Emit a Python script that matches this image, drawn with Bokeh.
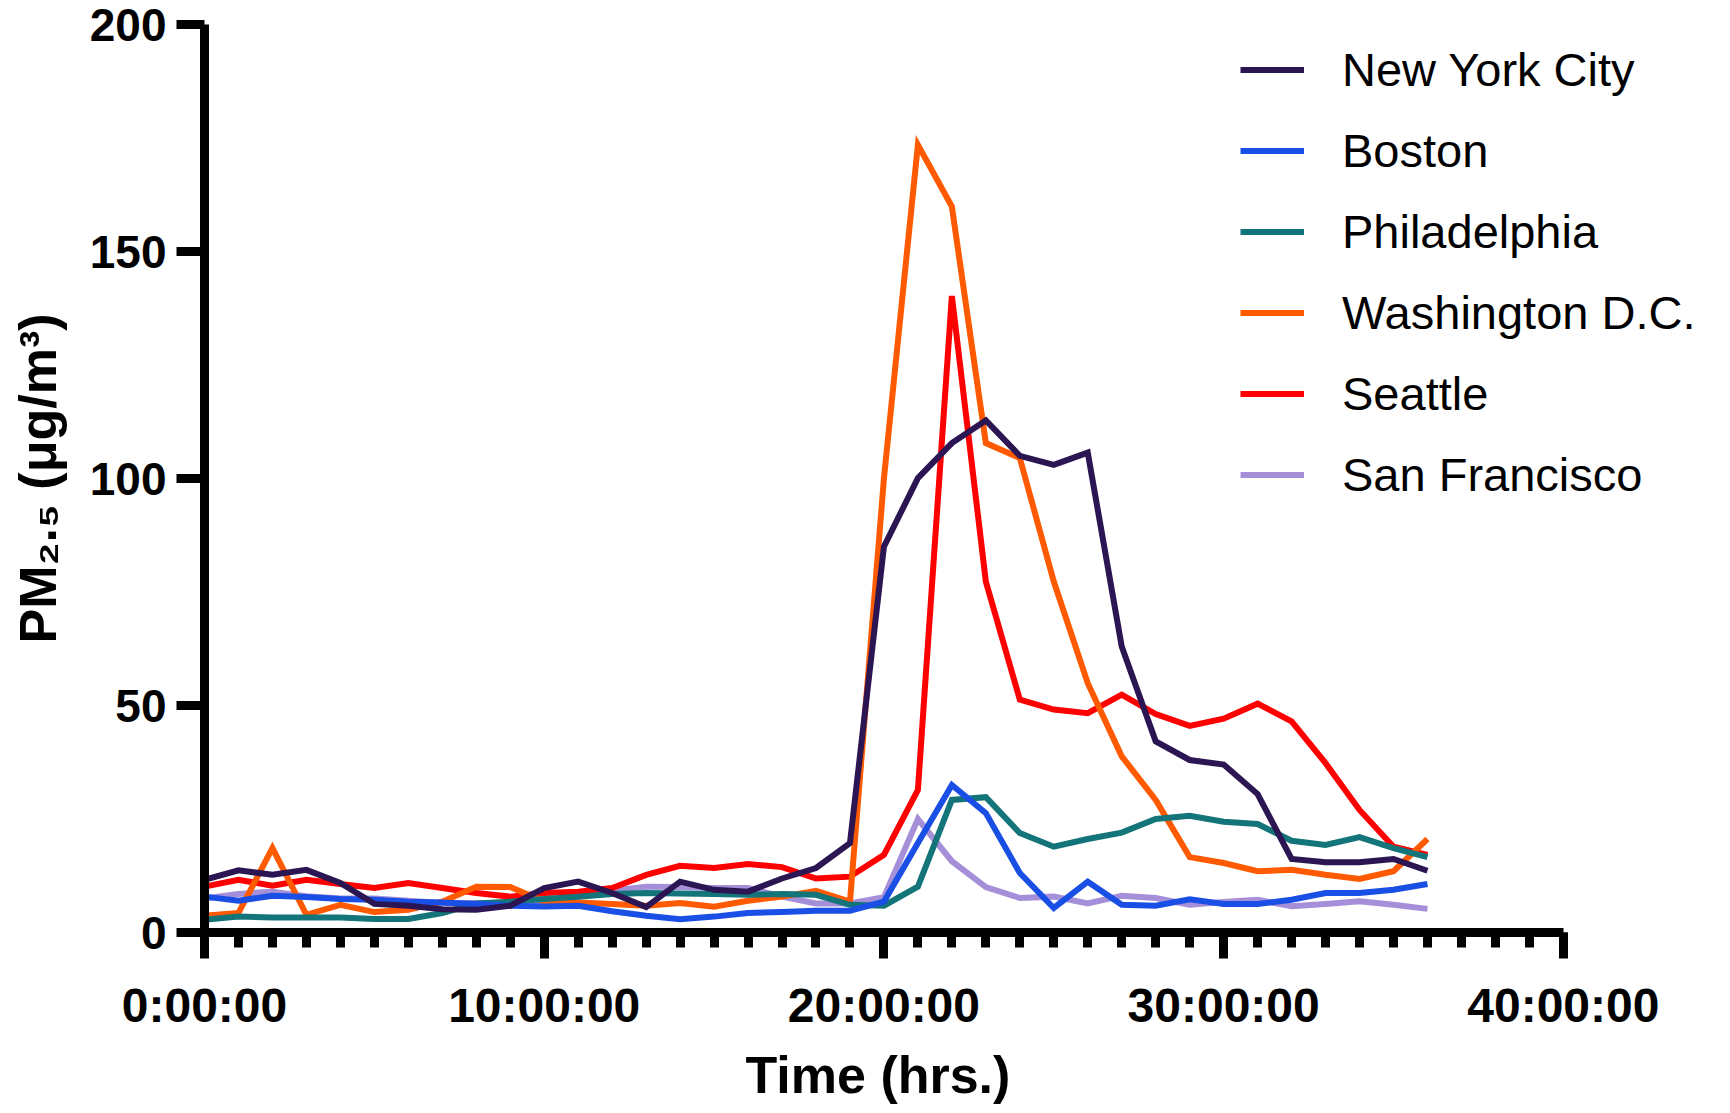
from bokeh.plotting import figure
from bokeh.models import Range1d, FixedTicker, Legend, LegendItem, Title
from bokeh.embed import file_html
from bokeh.resources import INLINE

hours = list(range(37))

new_york = [11.6, 13.7, 12.7, 13.8, 10.9, 6.3, 5.9, 5.1, 5.0, 5.9, 9.8, 11.2, 8.7, 5.6, 11.2,
            9.4, 9.0, 11.9, 14.2, 19.7, 85.0, 100.1, 107.8, 112.8, 105.0, 103.0, 105.7, 63.0,
            42.1, 38.0, 37.0, 30.5, 16.2, 15.5, 15.5, 16.2, 13.6]
boston = [7.9, 7.0, 8.1, 7.8, 7.4, 7.2, 6.8, 6.6, 6.3, 5.9, 5.7, 5.9, 4.7, 3.7, 2.9,
          3.5, 4.3, 4.5, 4.8, 4.8, 6.8, 19.7, 32.5, 26.3, 13.1, 5.4, 11.2, 6.1,
          5.9, 7.3, 6.3, 6.3, 7.2, 8.7, 8.7, 9.4, 10.7]
philadelphia = [2.8, 3.5, 3.3, 3.3, 3.3, 3.0, 3.0, 4.3, 6.4, 6.8, 7.4, 7.9, 8.5, 8.7, 8.6,
                8.5, 8.3, 8.5, 8.3, 6.1, 5.9, 10.1, 29.2, 29.8, 21.9, 18.9, 20.6, 22.0,
                25.0, 25.7, 24.4, 23.9, 20.2, 19.3, 21.0, 18.6, 16.6]
washington = [3.7, 4.3, 18.6, 3.9, 6.1, 4.5, 5.0, 6.8, 10.1, 10.0, 6.8, 6.6, 6.3, 5.9, 6.5,
              5.7, 7.0, 7.9, 9.2, 6.8, 100.0, 173.5, 159.9, 107.8, 104.5, 77.3, 54.9, 38.8,
              29.2, 16.6, 15.3, 13.5, 13.8, 12.7, 11.8, 13.5, 20.6]
seattle = [10.1, 11.6, 10.3, 11.6, 10.7, 9.8, 10.9, 9.8, 8.7, 7.9, 8.7, 9.0, 9.8, 12.7, 14.7,
           14.2, 15.1, 14.4, 11.9, 12.3, 17.1, 31.4, 140.2, 77.3, 51.3, 49.1, 48.3, 52.4,
           48.1, 45.5, 47.1, 50.4, 46.5, 37.3, 27.0, 18.9, 17.1]
san_francisco = [7.5, 8.5, 9.0, 8.0, 7.5, 7.5, 7.0, 6.5, 6.5, 6.5, 7.0, 8.0, 9.2, 10.1, 10.0,
                 9.8, 9.8, 7.9, 6.4, 6.4, 7.8, 25.0, 15.7, 10.0, 7.6, 7.9, 6.4, 8.1,
                 7.6, 6.1, 6.7, 7.2, 5.8, 6.3, 6.9, 6.1, 5.2]

cities = ["New York City", "Boston", "Philadelphia", "Washington D.C.", "Seattle", "San Francisco"]
series = [new_york, boston, philadelphia, washington, seattle, san_francisco]
colors = ["#2b1653", "#1a4fe6", "#137479", "#ff5a00", "#ff0000", "#a58fd8"]

x_ticks = [0, 10, 20, 30, 40]
x_tick_labels = ["0:00:00", "10:00:00", "20:00:00", "30:00:00", "40:00:00"]
y_ticks = [0, 50, 100, 150, 200]

# the frame runs to the right edge so the legend is not clipped; the x axis is bounded to 0-40
p = figure(width=1730, height=1113, output_backend="svg", toolbar_location=None,
           x_range=Range1d(0, 44.92), y_range=Range1d(0, 200),
           min_border_left=204, min_border_right=0, min_border_top=24, min_border_bottom=181)
p.outline_line_color = None
p.xgrid.grid_line_color = None
p.ygrid.grid_line_color = None
p.background_fill_color = "white"
p.border_fill_color = "white"

renderers = {}
for name, vals, col in reversed(list(zip(cities, series, colors))):
    r = p.line(hours, vals, line_color=col, line_width=6, line_join="miter")
    renderers[name] = r

items = [LegendItem(label=name, renderers=[renderers[name]]) for name in cities]
legend = Legend(items=items, location=(1036, 417), orientation="vertical",
                label_text_font="Liberation Sans", label_text_font_size="47px",
                label_text_color="black", label_height=81, glyph_height=81, glyph_width=64,
                label_standoff=38, spacing=0, padding=0, margin=0,
                border_line_alpha=0, background_fill_alpha=0)
p.add_layout(legend)

for ax in (p.xaxis[0], p.yaxis[0]):
    ax.axis_line_width = 9
    ax.axis_line_color = "black"
    ax.major_tick_line_width = 9
    ax.major_tick_line_color = "black"
    ax.minor_tick_line_width = 9
    ax.minor_tick_line_color = "black"
    ax.major_label_text_font = "Liberation Sans"
    ax.major_label_text_font_style = "bold"
    ax.major_label_text_color = "black"
    ax.axis_label_text_font = "Liberation Sans"
    ax.axis_label_text_font_style = "bold"
    ax.axis_label_text_color = "black"
    ax.axis_label_text_font_size = "52px"
    ax.major_tick_in = 0

xa = p.xaxis[0]
xa.bounds = (0, 40)
xa.ticker = FixedTicker(ticks=x_ticks, minor_ticks=list(range(41)))
xa.major_label_overrides = {t: lab for t, lab in zip(x_ticks, x_tick_labels)}
xa.major_tick_out = 26
xa.minor_tick_out = 15
xa.minor_tick_in = 0
xa.major_label_text_font_size = "48px"
xa.major_label_standoff = 20

# x-axis title, centred under the 0-40 span of the axis
x_title = Title(text="Time (hrs.)", align="left", offset=541, standoff=18,
                text_font="Liberation Sans", text_font_style="bold",
                text_font_size="52px", text_color="black")
p.add_layout(x_title, "below")

ya = p.yaxis[0]
ya.ticker = FixedTicker(ticks=y_ticks, minor_ticks=[])
ya.major_tick_out = 28
ya.minor_tick_out = 0
ya.minor_tick_in = 0
ya.major_label_text_font_size = "46px"
ya.major_label_standoff = 10
ya.axis_label = "PM₂.₅ (μg/m³)"
ya.axis_label_standoff = 20

open("out.html", "w").write(file_html(p, INLINE))
